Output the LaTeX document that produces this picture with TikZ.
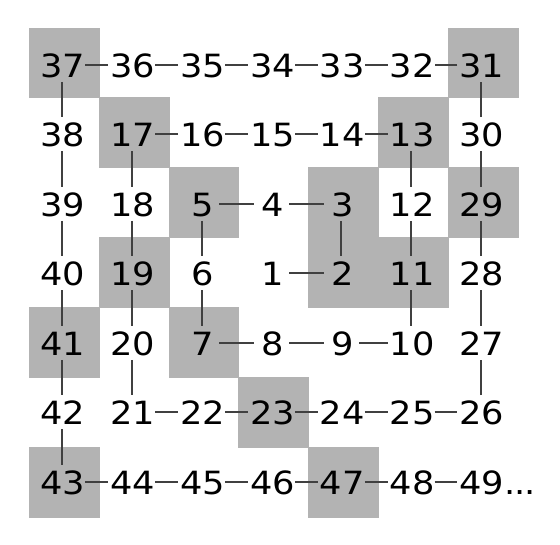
\documentclass[tikz,border=0pt]{standalone}
\usepackage{fontspec}
\newfontfamily\digfont[FakeStretch=1.1]{DejaVu Sans}
\definecolor{cellgray}{RGB}{179,179,179}
\newcommand{\numbox}[1]{\ifnum#1<10 \makebox[35pt]{\hspace{2pt}#1}\else\makebox[46.7pt]{\hspace{2pt}#1}\fi}
\begin{document}
\begin{tikzpicture}[x=1pt,y=-1pt,
  num/.style={font=\digfont\fontsize{32}{36}\selectfont, text height=25pt, text depth=0pt,
    inner xsep=0pt, inner ysep=4.5pt, anchor=base},
  link/.style={draw=black!75, line width=1.8pt},
  prime/.style={fill=cellgray, draw=cellgray, line width=0.3pt}]
\useasboundingbox (0,0) rectangle (560,545);
% prime cells
\foreach \c/\r in {4/3,4/2,2/2,2/4,5/3,5/1,1/1,1/3,3/5,6/2,6/0,0/0,0/4,0/6,4/6}
  \path[prime] ({29+69.85*\c},{27.7+69.85*\r}) rectangle ++(69.85,69.85);
% numbers
\foreach \n/\c/\r in {
  37/0/0, 36/1/0, 35/2/0, 34/3/0, 33/4/0, 32/5/0, 31/6/0,
  38/0/1, 17/1/1, 16/2/1, 15/3/1, 14/4/1, 13/5/1, 30/6/1,
  39/0/2, 18/1/2, 5/2/2, 4/3/2, 3/4/2, 12/5/2, 29/6/2,
  40/0/3, 19/1/3, 6/2/3, 1/3/3, 2/4/3, 11/5/3, 28/6/3,
  41/0/4, 20/1/4, 7/2/4, 8/3/4, 9/4/4, 10/5/4, 27/6/4,
  42/0/5, 21/1/5, 22/2/5, 23/3/5, 24/4/5, 25/5/5, 26/6/5,
  43/0/6, 44/1/6, 45/2/6, 46/3/6, 47/4/6, 48/5/6}
  \node[num] (n\n) at ({61.9+69.85*\c},{77.3+69.5*\r}) {\numbox{\n}};
\node[num] (n49) at ({61.9+69.85*6},{77.3+69.5*6})
  {\makebox[46.7pt]{\hspace{2pt}49\rlap{.\kern-1.2pt.\kern-1.2pt.}}};
% spiral connectors
\foreach \a [count=\b from 2] in {1,...,48}
  \draw[link] (n\a) -- (n\b);
\end{tikzpicture}
\end{document}
